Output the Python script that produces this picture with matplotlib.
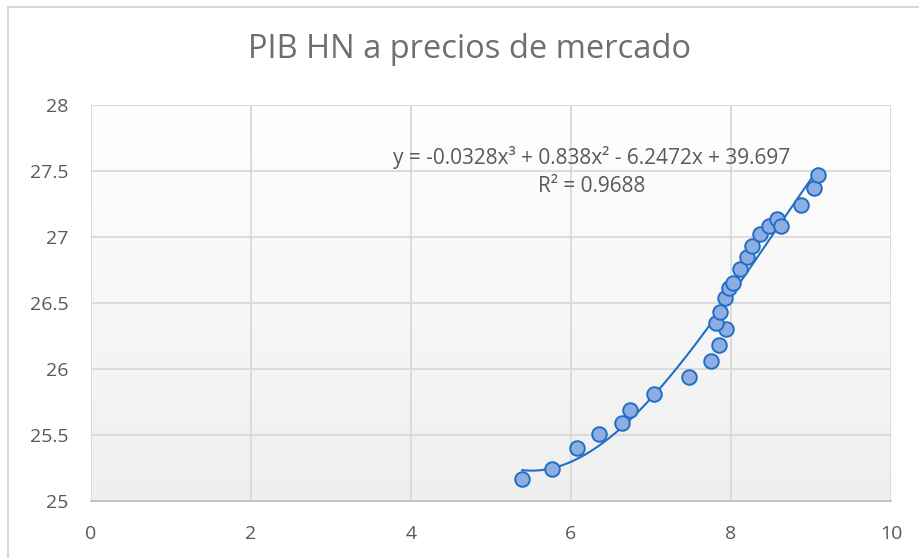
import numpy as np
import matplotlib.pyplot as plt
from matplotlib.colors import LinearSegmentedColormap
from matplotlib.patches import Rectangle

# data
x_vals = [5.39, 5.76, 6.08, 6.35, 6.64, 6.74, 7.04, 7.48, 7.75, 7.85, 7.94, 7.81,
          7.86, 7.93, 7.97, 8.03, 8.11, 8.20, 8.26, 8.36, 8.47, 8.58, 8.62, 8.88,
          9.04, 9.09]
y_vals = [25.17, 25.24, 25.40, 25.51, 25.59, 25.69, 25.81, 25.94, 26.06, 26.18,
          26.30, 26.35, 26.43, 26.54, 26.61, 26.65, 26.76, 26.85, 26.93, 27.02,
          27.08, 27.14, 27.08, 27.24, 27.37, 27.47]
# cubic trendline coefficients as printed on the chart
trend_coefs = [-0.0328, 0.838, -6.2472, 39.697]
x_ticks = [0, 2, 4, 6, 8, 10]
y_ticks = [25, 25.5, 26, 26.5, 27, 27.5, 28]

plt.rcParams['font.family'] = ['Open Sans', 'DejaVu Sans']
text_col = '#595959'
grid_col = '#d9d9d9'

fig = plt.figure(figsize=(9.2, 5.58), dpi=100)
W, H = 920, 558
ax = fig.add_axes([91 / W, 1 - 501 / H, (891 - 91) / W, (501 - 105) / H])

# chart area border (only top and left visible in the crop)
fig.patches.append(Rectangle((8 / W, -0.05), 1.2, 1 - 7 / H + 0.05,
                             transform=fig.transFigure, fill=False,
                             edgecolor='#d9d9d9', linewidth=1.5))

# plot area gradient
grad = np.linspace(1, 0, 256).reshape(-1, 1)
ax.imshow(grad, cmap=LinearSegmentedColormap.from_list('g', ['#ffffff', '#efefef']),
          extent=[0, 1, 0, 1], transform=ax.transAxes,
          aspect='auto', zorder=0, origin='lower')

xs = np.linspace(min(x_vals), max(x_vals), 200)
ax.plot(xs, np.polyval(trend_coefs, xs), color='#1f6fc6', linewidth=1.5, zorder=3)
ax.scatter(x_vals, y_vals, s=110, facecolor='#8eaee3', edgecolor='#1f6fc6',
           linewidth=1.4, zorder=4)

ax.set_xlim(0, 10)
ax.set_ylim(25, 28)
ax.set_xticks(x_ticks)
ax.set_yticks(y_ticks)
ax.set_yticklabels([f'{v:g}' for v in y_ticks])
ax.grid(True, color=grid_col, linewidth=1.3, zorder=1)
ax.set_axisbelow(True)
for s in ['top', 'right', 'left']:
    ax.spines[s].set_visible(False)
ax.spines['bottom'].set_color('#bfbfbf')
ax.spines['bottom'].set_linewidth(1.3)
ax.tick_params(length=0, labelsize=14, colors=text_col)
ax.tick_params(axis='y', pad=16)
ax.tick_params(axis='x', pad=17)

fig.text(470 / W, 1 - 50 / H, 'PIB HN a precios de mercado', ha='center',
         va='center', fontsize=23.5, color='#6e6e6e')
ax.text((592 - 91) / 800, 1 - (158 - 105) / 396,
        'y = -0.0328x³ + 0.838x² - 6.2472x + 39.697', transform=ax.transAxes,
        ha='center', va='center', fontsize=15, color=text_col)
ax.text((592 - 91) / 800, 1 - (187 - 105) / 396, 'R² = 0.9688',
        transform=ax.transAxes, ha='center', va='center', fontsize=15, color=text_col)

fig.savefig('out.png', dpi=100)
